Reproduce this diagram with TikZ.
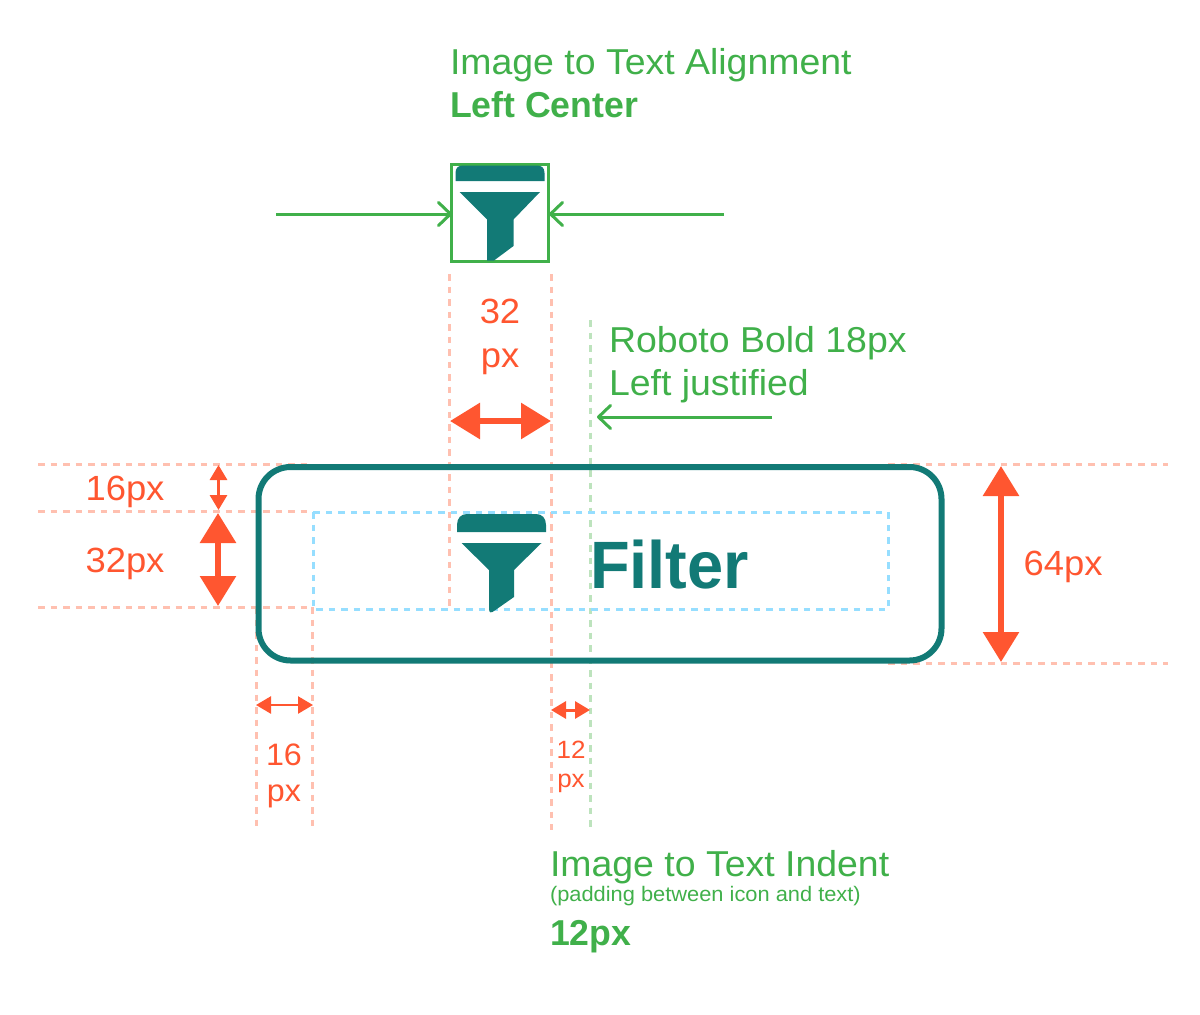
\documentclass[tikz,border=0pt]{standalone}
\usepackage{fontspec}
\setmainfont[FakeStretch=1.04,BoldFeatures={FakeStretch=0.99}]{Liberation Sans}
\newfontfamily\filterfont[BoldFeatures={FakeStretch=0.97}]{Liberation Sans}
\usetikzlibrary{arrows.meta}
\definecolor{teal1}{HTML}{127A76}
\definecolor{grn}{HTML}{40B04A}
\definecolor{org}{HTML}{FF5630}
\definecolor{lorg}{HTML}{FFC0B0}
\definecolor{lgrn}{HTML}{BDE3BD}
\definecolor{lblu}{HTML}{96DEFF}
\tikzset{
 x=1pt,y=-1pt,
 lbl/.style={anchor=base west,inner sep=0pt,outer sep=0pt,font=\fontsize{#1}{#1}\selectfont},
 ot/.style={anchor=base,inner sep=0pt,outer sep=0pt,text=org,font=\fontsize{#1}{#1}\selectfont},
 guide/.style={draw=lorg,line width=3pt,dash pattern=on 6.5pt off 6pt},
 gguide/.style={draw=lgrn,line width=3pt,dash pattern=on 6.5pt off 6pt},
 bguide/.style={draw=lblu,line width=3pt,dash pattern=on 6.5pt off 6pt},
 garrow/.style={draw=grn,line width=3pt,-{Straight Barb[length=12pt,width=23pt,line width=3pt,round]}},
 oarrowL/.style={draw=org,line width=6pt,{Triangle[length=30pt,width=35pt]}-{Triangle[length=30pt,width=35pt]}},
 oarrowM/.style={draw=org,line width=2.5pt,{Triangle[length=15pt,width=17pt]}-{Triangle[length=15pt,width=17pt]}},
 oarrowS/.style={draw=org,line width=3pt,{Triangle[length=15pt,width=17pt]}-{Triangle[length=15pt,width=17pt]}},
 funnel/.style={fill=teal1,draw=none},
}
\begin{document}
\begin{tikzpicture}
\useasboundingbox (0,0) rectangle (1200,1015);
\coordinate (t1a) at (449,274); \coordinate (t1b) at (449,606);
\coordinate (t2a) at (551,274); \coordinate (t2b) at (551,830);
\coordinate (gva) at (590,320); \coordinate (gvb) at (590,830);
\coordinate (h1a) at (38,464); \coordinate (h1b) at (312,464);
\coordinate (h2a) at (38,511); \coordinate (h2b) at (312,511);
\coordinate (h3a) at (38,607); \coordinate (h3b) at (312,607);
\coordinate (r1a) at (888,464); \coordinate (r1b) at (1168,464);
\coordinate (r2a) at (888,663); \coordinate (r2b) at (1168,663);
\coordinate (v1a) at (256,607); \coordinate (v1b) at (256,830);
\coordinate (v2a) at (312,607); \coordinate (v2b) at (312,830);
\draw[guide] (t1a)--(t1b);
\draw[guide] (t2a)--(t2b);
\draw[gguide] (gva)--(gvb);
\draw[guide] (h1a)--(h1b);
\draw[guide] (h2a)--(h2b);
\draw[guide] (h3a)--(h3b);
\draw[guide] (r1a)--(r1b);
\draw[guide] (r2a)--(r2b);
\draw[guide] (v1a)--(v1b);
\draw[guide] (v2a)--(v2b);
\draw[bguide] (313,512) rectangle (888,609);
\draw[teal1,line width=6pt,rounded corners=32pt] (258.5,467) rectangle (941.5,660.5);
\node[draw=grn,line width=3pt,minimum width=97pt,minimum height=97pt,inner sep=0pt] (topbox) at (500,212.5) {};
\fill[funnel] (455.5,181) -- (455.5,173) .. controls (455.5,168) and (458,165.5) .. (463,165.5) -- (537,165.5) .. controls (542,165.5) and (544.5,168) .. (544.5,173) -- (544.5,181) -- cycle;
\fill[funnel] (459.5,192) -- (540,192) -- (513.5,219.5) -- (513.5,246) -- (494,260.5) -- (487,260.5) -- (487,219.5) -- cycle;
\fill[funnel] (457,532) -- (457,525) .. controls (457,518) and (461,514) .. (467,514) -- (536,514) .. controls (542,514) and (546,518) .. (546,525) -- (546,532) -- cycle;
\fill[funnel] (461.5,543) -- (541.5,543) -- (514,570) -- (514,597) -- (494,611) .. controls (491,613.5) and (489,612.5) .. (489,609) -- (489,570) -- cycle;
\node[lbl=36,text=grn] (tA) at (450,74) {Image to Text Alignment};
\node[lbl=36,text=grn,font=\fontsize{36}{36}\selectfont\bfseries] (tB) at (450,117) {Left Center};
\node[lbl=36,text=grn] (tC) at (609,352) {Roboto Bold 18px};
\node[lbl=36,text=grn] (tD) at (609,395) {Left justified};
\node[lbl=36,text=grn] (tE) at (550,876) {Image to Text Indent};
\node[lbl=21,text=grn] (tF) at (550,901) {(padding between icon and text)};
\node[lbl=36,text=grn,font=\fontsize{36}{36}\selectfont\bfseries] (tG) at (550,945) {12px};
\node[lbl=67,text=teal1,font=\fontsize{67}{67}\selectfont\filterfont\bfseries] (filter) at (590,588) {Filter};
\node[ot=35] (o32a) at (500,323) {32};
\node[ot=35] (o32b) at (500,367) {px};
\node[ot=35] (o16h) at (125,500) {16px};
\node[ot=35] (o32h) at (125,572) {32px};
\node[ot=35] (o64) at (1063,575) {64px};
\node[ot=31] (o16a) at (284,765) {16};
\node[ot=31] (o16b) at (284,801) {px};
\node[ot=25] (o12a) at (571,758) {12};
\node[ot=25] (o12b) at (571,787) {px};
\coordinate (ga1) at (276,214); \coordinate (ga2) at (724,214);
\coordinate (ga1e) at (452,214); \coordinate (ga2e) at (549,214);
\coordinate (ga3) at (772,417); \coordinate (ga4) at (597,417);
\draw[garrow] (ga1)--(ga1e);
\draw[garrow] (ga2)--(ga2e);
\draw[garrow] (ga3)--(ga4);
\coordinate (a1) at (450,421); \coordinate (a2) at (551,421);
\draw[oarrowL] (a1)--(a2);
\coordinate (a3) at (218,513); \coordinate (a4) at (218,606);
\draw[oarrowL] (a3)--(a4);
\coordinate (a5) at (1001,466); \coordinate (a6) at (1001,662);
\draw[oarrowL] (a5)--(a6);
\coordinate (a7) at (218.5,465); \coordinate (a8) at (218.5,510);
\draw[oarrowS] (a7)--(a8);
\coordinate (a9) at (256,705); \coordinate (a10) at (313,705);
\draw[oarrowM] (a9)--(a10);
\coordinate (a11) at (551,710); \coordinate (a12) at (590,710);
\draw[oarrowS] (a11)--(a12);
\end{tikzpicture}
\end{document}
